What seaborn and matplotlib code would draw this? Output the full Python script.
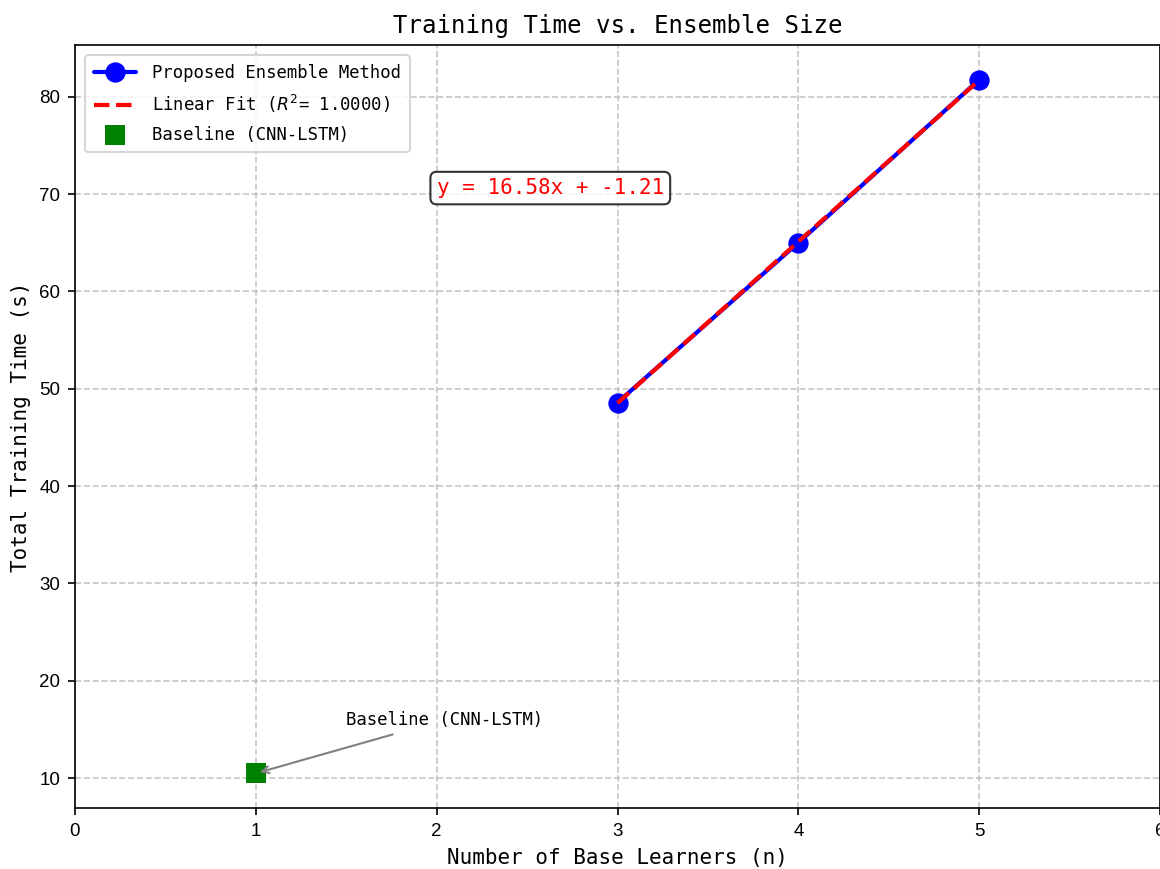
import numpy as np
import pandas as pd
import matplotlib
matplotlib.use("Agg")
import matplotlib.pyplot as plt
import seaborn as sns

# data
n_learners = [3, 4, 5]
train_times = [48.59, 65.00, 81.75]
baseline_n = [1]
baseline_time = [10.5]
x_ticks = [0, 1, 2, 3, 4, 5, 6]

df = pd.DataFrame({"n": n_learners, "time": train_times})

# linear fit like the original
slope, intercept = np.polyfit(df["n"], df["time"], 1)
fit_vals = np.polyval([slope, intercept], df["n"])
ss_res = np.sum((df["time"] - fit_vals) ** 2)
ss_tot = np.sum((df["time"] - df["time"].mean()) ** 2)
r2 = 1 - ss_res / ss_tot

sns.set_style("ticks")
plt.rcParams["font.family"] = ["DejaVu Sans Mono", "DejaVu Sans"]
plt.rcParams["text.color"] = "black"
plt.rcParams["axes.labelcolor"] = "black"

fig = plt.figure(figsize=(1160 / 150, 869 / 150), dpi=150)
ax = fig.add_axes([75 / 1160, 1 - 808 / 869, 1 - 75 / 1160, (808 - 45) / 869])

sns.lineplot(x=n_learners, y=train_times, ax=ax, color="blue", linewidth=2,
             marker="o", markersize=9, markeredgecolor="blue",
             label="Proposed Ensemble Method")
sns.lineplot(x=n_learners, y=fit_vals, ax=ax, color="red", linewidth=2,
             linestyle="--", label=f"Linear Fit ($R^2$= {r2:.4f})")
sns.scatterplot(x=baseline_n, y=baseline_time, ax=ax, color="green",
                marker="s", s=90, edgecolor="green", linewidth=0,
                label="Baseline (CNN-LSTM)")

ax.annotate("Baseline (CNN-LSTM)", xy=(baseline_n[0], baseline_time[0]),
            xytext=(1.5, 15.5), fontsize=8.3,
            arrowprops=dict(arrowstyle="->", color="gray"))

ax.text(2, 70, f"y = {slope:.2f}x + {intercept:.2f}", color="red", fontsize=10,
        bbox=dict(boxstyle="round", facecolor="white", edgecolor="black", alpha=0.8))

ax.set_xlim(0, 6)
ax.set_xticks(x_ticks)
ax.grid(True, linestyle="--", color="#b0b0b0", alpha=0.7)
for sp in ax.spines.values():
    sp.set_color("black")
    sp.set_linewidth(0.8)
ax.tick_params(colors="black", labelsize=9)
for lbl in ax.get_xticklabels() + ax.get_yticklabels():
    lbl.set_family("Liberation Sans")

ax.set_title("Training Time vs. Ensemble Size", fontsize=11.6)
ax.set_xlabel("Number of Base Learners (n)", fontsize=10)
ax.set_ylabel("Total Training Time (s)", fontsize=10)
ax.legend(loc="upper left", fontsize=8.3, borderpad=0.5, labelspacing=0.62,
          handlelength=2.4, handletextpad=0.96, borderaxespad=0.6)

fig.savefig("out.png", dpi=150)
